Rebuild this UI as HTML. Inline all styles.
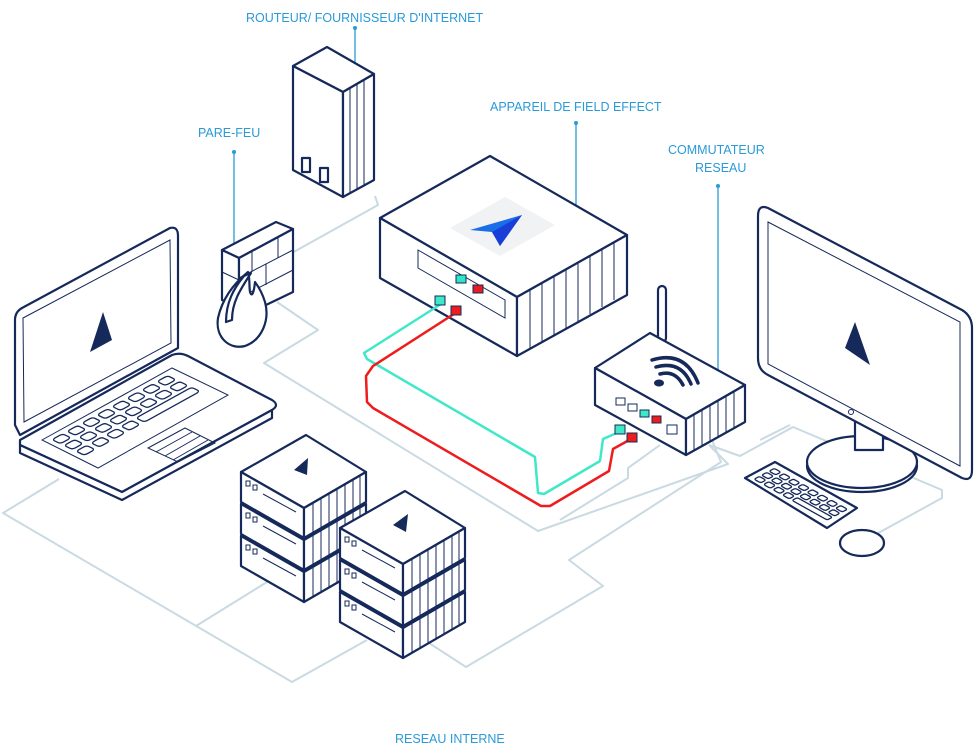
<!DOCTYPE html>
<html><head><meta charset="utf-8"><style>
html,body{margin:0;padding:0;background:#fff;}
svg{display:block;}
.t{font-family:"Liberation Sans",sans-serif;font-size:12.5px;fill:#2a9ad8;}
.o{fill:#fff;stroke:#15295a;stroke-width:2.2;stroke-linejoin:round;}
.s{stroke:#15295a;stroke-width:1;fill:none;}
.k{fill:#fff;stroke:#15295a;stroke-width:1.3;vector-effect:non-scaling-stroke;}
.n{fill:none;stroke:#c9dae2;stroke-width:2;stroke-linejoin:round;}
.b{stroke:#2a9ad8;stroke-width:1.3;}
</style></head><body>
<svg width="975" height="746" viewBox="0 0 975 746" xmlns="http://www.w3.org/2000/svg">
<defs>
<g id="unit">
<polygon class="o" points="0,0 65,-37 125,0 63,36"/>
<polygon class="o" points="0,0 63,36 63,66 0,30"/>
<polygon class="o" points="63,36 125,0 125,30 63,66"/>
<g class="s"><line x1="72" y1="31" x2="72" y2="61"/><line x1="80" y1="26" x2="80" y2="56"/><line x1="88" y1="22" x2="88" y2="52"/><line x1="96" y1="17" x2="96" y2="47"/><line x1="104" y1="12" x2="104" y2="42"/><line x1="112" y1="8" x2="112" y2="38"/><line x1="119" y1="4" x2="119" y2="34"/></g>
<rect x="5" y="9" width="4" height="5" class="s"/><rect x="12" y="13" width="4" height="5" class="s"/>
<line x1="22" y1="22" x2="55" y2="40" class="s"/>
</g>
<g id="keys">
<rect x="0.15" y="0.15" width="0.7" height="0.7" rx="0.2" class="k"/><rect x="1.15" y="0.15" width="0.7" height="0.7" rx="0.2" class="k"/><rect x="2.15" y="0.15" width="0.7" height="0.7" rx="0.2" class="k"/><rect x="3.15" y="0.15" width="0.7" height="0.7" rx="0.2" class="k"/><rect x="4.15" y="0.15" width="0.7" height="0.7" rx="0.2" class="k"/><rect x="5.15" y="0.15" width="0.7" height="0.7" rx="0.2" class="k"/><rect x="6.15" y="0.15" width="0.7" height="0.7" rx="0.2" class="k"/><rect x="7.15" y="0.15" width="0.7" height="0.7" rx="0.2" class="k"/>
<rect x="0.15" y="1.15" width="0.7" height="0.7" rx="0.2" class="k"/><rect x="1.15" y="1.15" width="0.7" height="0.7" rx="0.2" class="k"/><rect x="2.15" y="1.15" width="0.7" height="0.7" rx="0.2" class="k"/><rect x="3.15" y="1.15" width="0.7" height="0.7" rx="0.2" class="k"/><rect x="4.15" y="1.15" width="0.7" height="0.7" rx="0.2" class="k"/><rect x="5.15" y="1.15" width="0.7" height="0.7" rx="0.2" class="k"/><rect x="6.15" y="1.15" width="0.7" height="0.7" rx="0.2" class="k"/><rect x="7.15" y="1.15" width="0.7" height="0.7" rx="0.2" class="k"/>
<rect x="0.15" y="2.15" width="0.7" height="0.7" rx="0.2" class="k"/><rect x="1.15" y="2.15" width="0.7" height="0.7" rx="0.2" class="k"/><rect x="2.15" y="2.15" width="0.7" height="0.7" rx="0.2" class="k"/><rect x="3.15" y="2.15" width="0.7" height="0.7" rx="0.2" class="k"/><rect x="4.15" y="2.15" width="3.7" height="0.7" rx="0.2" class="k"/>
</g>
</defs>
<!-- network lines -->
<g class="n">
<path d="M277,302 L318,330 L264,363 L538,531 L728,464 L709,445"/>
<path d="M375,196 L378,205 L265,268"/>
<path d="M59,479 L3,513 L292,682 L367,640"/>
<path d="M196,626 L267,582"/>
<path d="M429,643 L466,667 L603,586 L569,560 L721,462 L712,440"/>
<path d="M660,445 L628,468 L628,478 L560,520"/>
<path d="M709,445 L740,456 L793,427 L942,490 L942,498 L871,537"/>
<path d="M760,440 L790,425"/>
</g>
<!-- label lines -->
<g class="b">
<line x1="355" y1="28" x2="355" y2="75"/><line x1="234" y1="152" x2="234" y2="250"/>
<line x1="576" y1="123" x2="576" y2="225"/><line x1="718" y1="186" x2="718" y2="380"/>
</g>
<g fill="#2a9ad8"><circle cx="355" cy="28" r="2"/><circle cx="234" cy="152" r="2"/><circle cx="576" cy="123" r="2"/><circle cx="718" cy="186" r="2"/></g>
<text class="t" x="246" y="22">ROUTEUR/ FOURNISSEUR D'INTERNET</text>
<text class="t" x="198" y="137">PARE-FEU</text>
<text class="t" x="490" y="111">APPAREIL DE FIELD EFFECT</text>
<text class="t" x="668" y="154">COMMUTATEUR</text>
<text class="t" x="695" y="172">RESEAU</text>
<text class="t" x="395" y="743">RESEAU INTERNE</text>
<!-- router tower -->
<polygon class="o" points="293,66 327,47 374,74 343,92"/>
<polygon class="o" points="293,66 343,92 343,197 293,170"/>
<polygon class="o" points="343,92 374,74 374,180 343,197"/>
<g class="s"><line x1="350" y1="88" x2="350" y2="193"/><line x1="357" y1="84" x2="357" y2="189"/><line x1="364" y1="80" x2="364" y2="185"/></g>
<rect x="302" y="158" width="8" height="14" class="o" stroke-width="1.5"/><rect x="320" y="168" width="8" height="14" class="o" stroke-width="1.5"/>
<!-- firewall -->
<polygon class="o" points="222,250 276,222 293,229 239,258"/>
<polygon class="o" points="222,250 239,258 239,308 222,300"/>
<polygon class="o" points="239,258 293,229 293,292 239,318"/>
<g class="s"><line x1="239" y1="278" x2="293" y2="250"/><line x1="239" y1="298" x2="293" y2="270"/><line x1="252" y1="251" x2="252" y2="272"/><line x1="278" y1="238" x2="278" y2="258"/><line x1="266" y1="264" x2="266" y2="285"/><line x1="222" y1="272" x2="239" y2="280"/></g>
<path class="o" d="M248,272 C232,285 222,300 218,318 C215,338 230,350 245,346 C262,340 270,320 265,302 C262,292 258,286 255,282 C254,292 252,298 250,292 C249,286 250,278 248,272 Z"/>
<path class="o" d="M244,276 L251,273 C240,290 232,302 232,320 L226,322 C226,302 234,288 244,276 Z"/>
<!-- FE box -->
<polygon class="o" points="380,218 490,156 627,235 517,297"/>
<polygon class="o" points="380,218 517,297 517,356 380,278"/>
<polygon class="o" points="517,297 627,235 627,295 517,356"/>
<g class="s"><line x1="530" y1="290" x2="530" y2="349"/><line x1="542" y1="283" x2="542" y2="342"/><line x1="554" y1="276" x2="554" y2="335"/><line x1="566" y1="269" x2="566" y2="328"/><line x1="578" y1="262" x2="578" y2="321"/><line x1="590" y1="255" x2="590" y2="314"/><line x1="602" y1="248" x2="602" y2="307"/><line x1="614" y1="241" x2="614" y2="300"/></g>
<polygon points="450,228 505,197 555,225 500,256" fill="#f1f2f4"/>
<polygon points="470,230 522,215 500,246 492,232" fill="#1a6ee8"/>
<polygon points="492,232 522,215 500,246" fill="#1a3fd8"/>
<path d="M418,250 L505,300 L505,318 L418,268 Z" class="s" stroke="#8894aa"/>
<rect x="456" y="275" width="10" height="8" fill="#2ee6c4" stroke="#15295a"/><rect x="473" y="285" width="10" height="8" fill="#e81c1c" stroke="#15295a"/>
<!-- cables -->
<path d="M441,304 L364,353 L367,359 L535,457 L538,493 L544,494 L600,461 L603,439 L619,432" fill="none" stroke="#3fe8c8" stroke-width="2.5" stroke-linejoin="round"/>
<path d="M457,312 L373,366 L366,376 L367,402 L373,408 L541,506 L550,506 L609,471 L613,449 L631,439" fill="none" stroke="#ee1c1c" stroke-width="2.5" stroke-linejoin="round"/>
<rect x="435" y="296" width="10" height="9" fill="#3fe8c8" stroke="#15295a"/><rect x="451" y="306" width="10" height="9" fill="#ee1c1c" stroke="#15295a"/>
<!-- switch -->
<rect x="658" y="286" width="8" height="56" rx="4" class="o"/>
<polygon class="o" points="595,368 650,333 745,385 686,419"/>
<polygon class="o" points="595,368 686,419 686,455 595,405"/>
<polygon class="o" points="686,419 745,385 745,422 686,455"/>
<g class="s"><line x1="694" y1="414" x2="694" y2="450"/><line x1="702" y1="410" x2="702" y2="446"/><line x1="710" y1="405" x2="710" y2="441"/><line x1="718" y1="400" x2="718" y2="436"/><line x1="726" y1="396" x2="726" y2="432"/><line x1="734" y1="391" x2="734" y2="427"/></g>
<g fill="none" stroke="#15295a" stroke-width="3.5" stroke-linecap="round"><path d="M652,360 Q685,350 698,383"/><path d="M656,367 Q681,360 691,384"/><path d="M660,374 Q675,370 683,385"/></g>
<ellipse cx="659" cy="383" rx="5" ry="3.5" fill="#15295a"/>
<rect x="616" y="398" width="9" height="7" class="s"/><rect x="628" y="404" width="9" height="7" class="s"/><rect x="640" y="410" width="9" height="7" fill="#3fe8c8" stroke="#15295a"/><rect x="652" y="416" width="9" height="7" fill="#ee1c1c" stroke="#15295a"/>
<rect x="667" y="425" width="10" height="9" class="s"/>
<rect x="615" y="425" width="10" height="9" fill="#3fe8c8" stroke="#15295a"/><rect x="627" y="433" width="10" height="9" fill="#ee1c1c" stroke="#15295a"/>
<!-- laptop -->
<path class="o" d="M22,308 L170,228 Q178,226 178,236 L178,348 L20,435 L15,425 L15,320 Q15,312 22,308 Z"/>
<polygon class="s" points="23,318 170,240 171,343 24,422" stroke-width="1.5"/>
<polygon points="103,312 112,340 90,352" fill="#15295a"/>
<path class="o" d="M20,440 L172,355 Q180,352 188,356 L272,400 Q280,405 272,410 L122,492 L20,445 Z"/>
<path class="o" d="M20,445 L122,492 L272,410 L272,418 L122,500 L20,453 Z"/>
<polygon class="s" points="42,440 172,368 228,395 98,468" stroke-width="1.5"/>
<use href="#keys" transform="matrix(15,-8.3,12,5.8,48,440)"/>
<polygon points="148,448 185,428 215,443 178,462" class="s" stroke-width="1.5"/>
<g class="s"><line x1="156" y1="452" x2="192" y2="432"/><line x1="165" y1="456" x2="200" y2="436"/><line x1="173" y1="460" x2="208" y2="440"/></g>
<!-- servers stack 1 -->
<use href="#unit" x="241" y="536"/><use href="#unit" x="241" y="504"/><use href="#unit" x="241" y="472"/>
<polygon points="294,470 308,458 307,475" fill="#15295a"/>
<!-- stack 2 -->
<use href="#unit" x="340" y="592"/><use href="#unit" x="340" y="560"/><use href="#unit" x="340" y="528"/>
<polygon points="393,525 408,514 406,532" fill="#15295a"/>
<!-- monitor -->
<ellipse cx="862" cy="466" rx="55" ry="26" class="o"/>
<ellipse cx="862" cy="462" rx="55" ry="26" class="o"/>
<rect x="855" y="420" width="28" height="30" class="o"/>
<path class="o" d="M768,208 L962,310 Q972,316 972,328 L972,470 Q972,482 962,478 L768,375 Q758,370 758,358 L758,216 Q758,204 768,208 Z"/>
<polygon class="s" stroke-width="1.5" points="768,222 960,322 960,466 768,364"/>
<polygon points="855,322 870,365 845,348" fill="#15295a"/>
<circle cx="851" cy="412" r="2.5" class="s"/>
<polygon class="o" points="745,478 775,462 857,508 827,528"/>
<use href="#keys" transform="matrix(9.5,5.3,-7.5,4,774,467)"/>
<ellipse cx="862" cy="543" rx="22" ry="13" class="o"/>
</svg>
</body></html>
